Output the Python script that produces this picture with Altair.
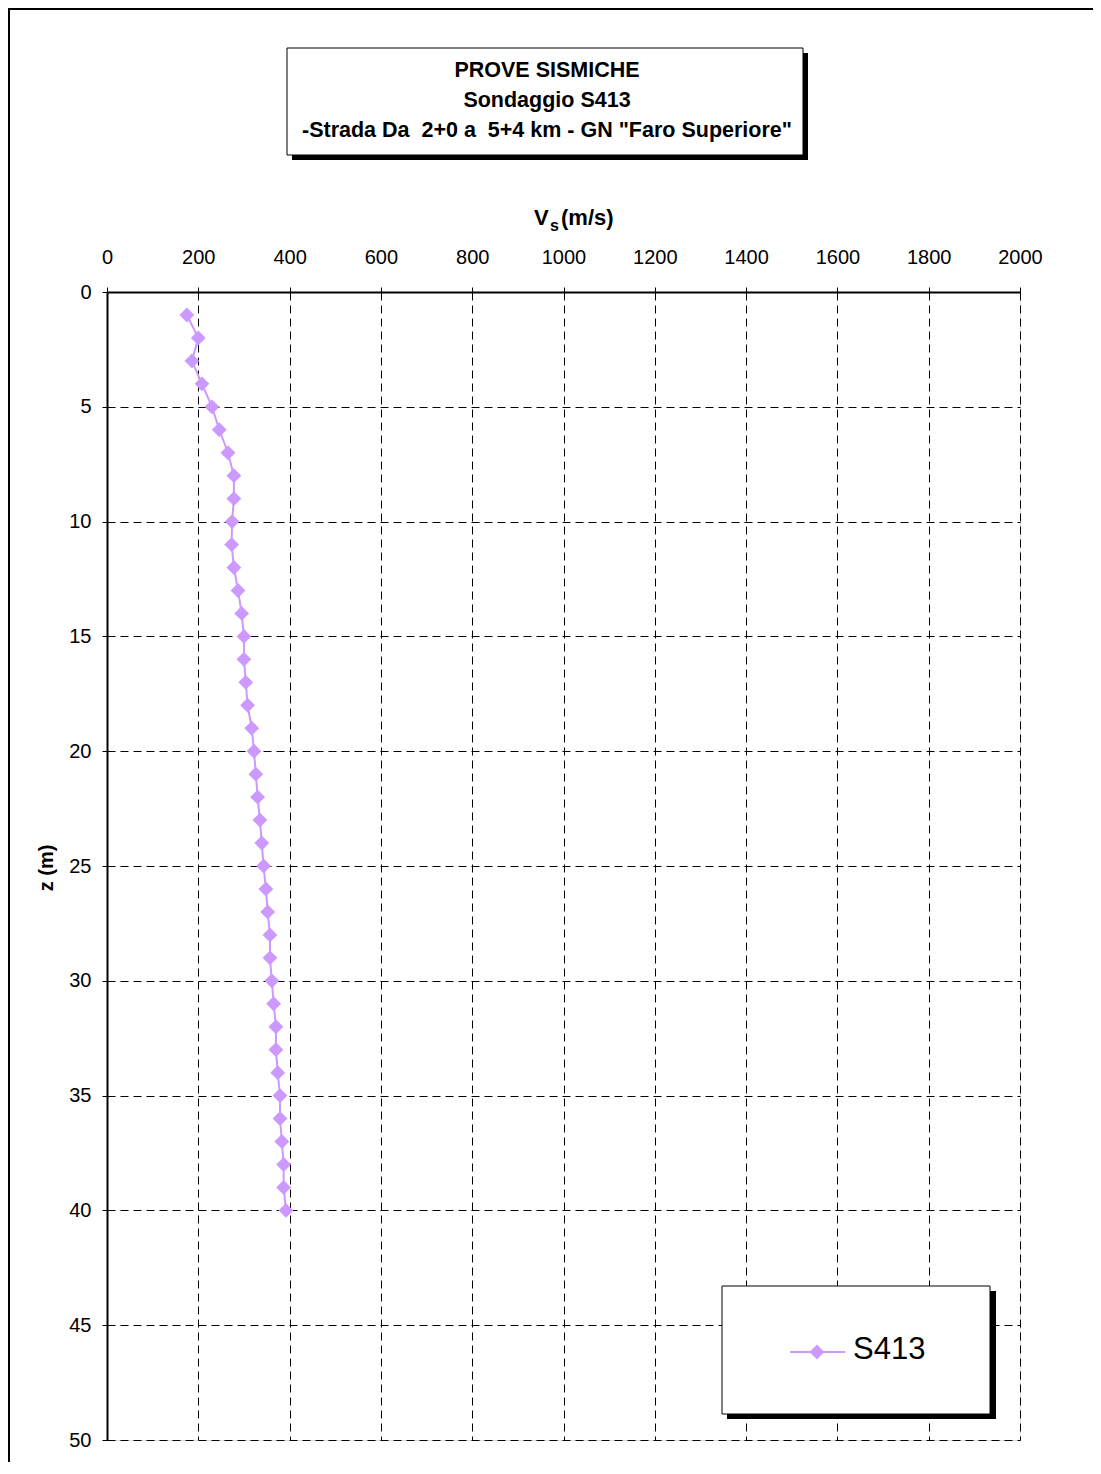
import altair as alt
import pandas as pd

# ---- data ----
depth_m = [1, 2, 3, 4, 5, 6, 7, 8, 9, 10,
           11, 12, 13, 14, 15, 16, 17, 18, 19, 20,
           21, 22, 23, 24, 25, 26, 27, 28, 29, 30,
           31, 32, 33, 34, 35, 36, 37, 38, 39, 40]
vs_ms = [175, 200, 186, 208, 230, 246, 265, 278, 278, 274,
         273, 278, 287, 295, 300, 300, 304, 308, 317, 322,
         326, 330, 335, 339, 343, 348, 352, 357, 357, 361,
         365, 370, 370, 374, 379, 379, 383, 387, 387, 392]
series_name = "S413"
NB = "\u00a0"
title_lines = ["PROVE SISMICHE", "Sondaggio S413",
               "-Strada Da" + NB + NB + "2+0 a" + NB + NB + "5+4 km - GN \"Faro Superiore\""]
x_ticks = [0, 200, 400, 600, 800, 1000, 1200, 1400, 1600, 1800, 2000]
y_ticks = [0, 5, 10, 15, 20, 25, 30, 35, 40, 45, 50]

FONT = "Liberation Sans"
COLOR = "#CC99FF"

df = pd.DataFrame({"z": depth_m, "vs": vs_ms, "serie": [series_name] * len(depth_m)})

W, H = 913, 1148

x_enc = alt.X("vs:Q", scale=alt.Scale(domain=[0, 2000], nice=False),
              axis=alt.Axis(orient="top", values=x_ticks, title=None, format="d",
                            labelFontSize=20, labelFont=FONT, labelColor="black",
                            labelPadding=20, tickSize=5, tickColor="black",
                            domainColor="black", domainWidth=2, grid=True,
                            gridColor="black", gridDash=[8, 5], gridWidth=1,
                            labelFlush=False))
y_enc = alt.Y("z:Q", scale=alt.Scale(domain=[0, 50], reverse=True, nice=False),
              axis=alt.Axis(values=y_ticks, title=None, format="d", labelFontSize=20,
                            labelFont=FONT, labelColor="black", labelPadding=11,
                            tickSize=5, tickColor="black", domainColor="black",
                            domainWidth=2, grid=True, gridColor="black",
                            gridDash=[8, 5], gridWidth=1, labelFlush=False))

base = alt.Chart(df)
line = base.mark_line(color=COLOR, strokeWidth=2).encode(x=x_enc, y=y_enc, order="z:Q")
pts = base.mark_point(shape="diamond", filled=True, color=COLOR, size=220, opacity=1).encode(
    x="vs:Q", y="z:Q")

one = alt.Data(values=[{}])


def rect(x, x2, y, y2, fill, stroke=None, sw=0):
    kw = dict(fill=fill)
    if stroke:
        kw.update(stroke=stroke, strokeWidth=sw)
    return alt.Chart(one).mark_rect(**kw).encode(
        x=alt.value(x), x2=alt.value(x2), y=alt.value(y), y2=alt.value(y2))


def rule(x, x2, y, y2, color="black", sw=2):
    return alt.Chart(one).mark_rule(color=color, strokeWidth=sw).encode(
        x=alt.value(x), x2=alt.value(x2), y=alt.value(y), y2=alt.value(y2))


def text(t, x, y, size, bold=False, align="center", baseline="middle", angle=0):
    kw = dict(text=t, fontSize=size, font=FONT, color="black", align=align,
              baseline=baseline, fontWeight="bold" if bold else "normal")
    if angle:
        kw["angle"] = angle
    return alt.Chart(one).mark_text(**kw).encode(x=alt.value(x), y=alt.value(y))


# outer frame (left and top)
frame = rule(-98, -98, -284, 1170, sw=2) + rule(-99, 990, -283, -283, sw=2)

# title box with shadow
tbox = rect(185, 701, -239, -132, "black") + rect(180, 696, -244, -137, "white", "black", 1)
ttext = (text(title_lines[0], 440, -221, 21.5, bold=True)
         + text(title_lines[1], 440, -191, 21.5, bold=True)
         + text(title_lines[2], 440, -161, 21.5, bold=True))

# x-axis title with subscript
xtitle = (text("V", 427, -67, 22, bold=True, align="left", baseline="alphabetic")
          + text("s", 443, -61, 16, bold=True, align="left", baseline="alphabetic")
          + text("(m/s)", 454, -67, 22, bold=True, align="left", baseline="alphabetic"))
ytitle = text("z (m)", -60, 576, 20, bold=True, angle=270)

# legend box with shadow
lbox = rect(620, 889, 999, 1127, "black") + rect(615, 883, 994, 1122, "white", "black", 1)
leg_line = rule(683, 738, 1060, 1060, color=COLOR, sw=2)
leg_pt = alt.Chart(one).mark_point(shape="diamond", filled=True, color=COLOR, size=220,
                                   opacity=1).encode(x=alt.value(710), y=alt.value(1060))
leg_txt = text(series_name, 746, 1058, 31, align="left")

chart = alt.layer(line, pts, frame, tbox, ttext, xtitle, ytitle,
                  lbox, leg_line, leg_pt, leg_txt).properties(
    width=W, height=H,
    autosize=alt.AutoSizeParams(type="none"),
    padding={"left": 99, "top": 284, "right": 73, "bottom": 24},
).configure_view(stroke="black", strokeWidth=2).configure(background="white")

chart.save("out.html", embed_options={"renderer": "svg", "actions": False})
